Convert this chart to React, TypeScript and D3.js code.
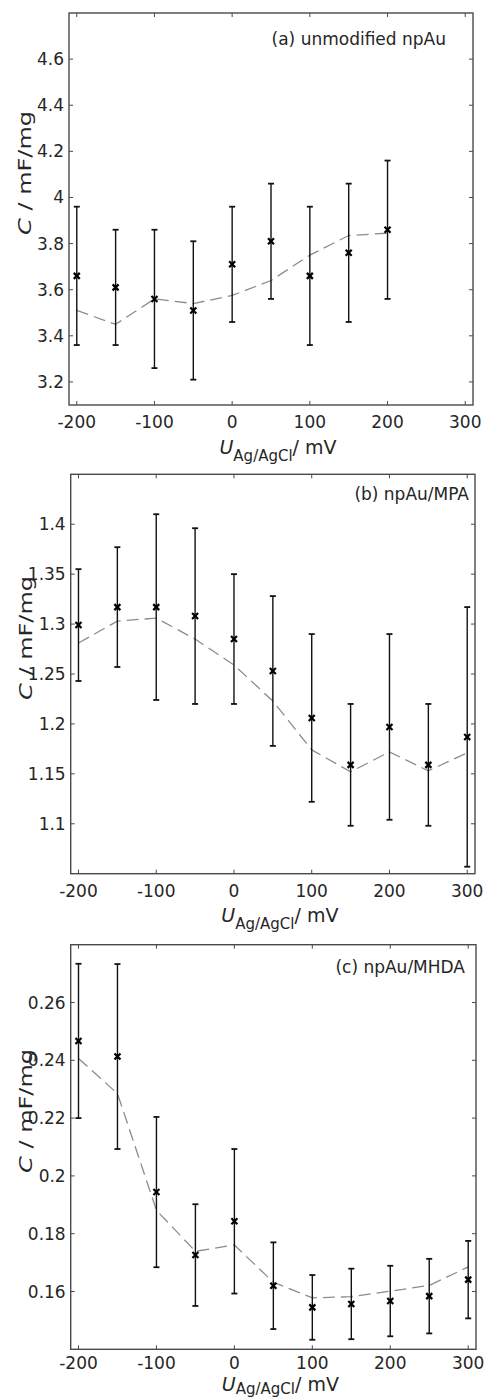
import React from "react";
import * as d3 from "d3";

// ---- data ----
const xTicks = [-200, -100, 0, 100, 200, 300];

const aX = [-200, -150, -100, -50, 0, 50, 100, 150, 200];
const aC = [3.66, 3.61, 3.56, 3.51, 3.71, 3.81, 3.66, 3.76, 3.86];
const aErr = [0.3, 0.25, 0.3, 0.3, 0.25, 0.25, 0.3, 0.3, 0.3];
const aFit = [3.51, 3.45, 3.56, 3.54, 3.575, 3.64, 3.75, 3.835, 3.845];
const aYTicks = [3.2, 3.4, 3.6, 3.8, 4, 4.2, 4.4, 4.6];

const bX = [-200, -150, -100, -50, 0, 50, 100, 150, 200, 250, 300];
const bC = [1.299, 1.317, 1.317, 1.308, 1.285, 1.253, 1.206, 1.159, 1.197, 1.159, 1.187];
const bErr = [0.056, 0.06, 0.093, 0.088, 0.065, 0.075, 0.084, 0.061, 0.093, 0.061, 0.13];
const bFit = [1.281, 1.303, 1.306, 1.285, 1.259, 1.223, 1.174, 1.152, 1.172, 1.153, 1.171];
const bYTicks = [1.1, 1.15, 1.2, 1.25, 1.3, 1.35, 1.4];

const cX = [-200, -150, -100, -50, 0, 50, 100, 150, 200, 250, 300];
const cC = [0.2467, 0.2413, 0.1944, 0.1726, 0.1843, 0.162, 0.1545, 0.1557, 0.1567, 0.1584, 0.1641];
const cErr = [0.0267, 0.032, 0.026, 0.0176, 0.025, 0.015, 0.0112, 0.0122, 0.0122, 0.0129, 0.0134];
const cFit = [0.2406, 0.2285, 0.1881, 0.1739, 0.1761, 0.1632, 0.1578, 0.1582, 0.1601, 0.1621, 0.1685];
const cYTicks = [0.16, 0.18, 0.2, 0.22, 0.24, 0.26];

const xDomain: [number, number] = [-210, 310];

interface PanelProps {
  left: number; top: number; right: number; bottom: number;
  yDomain: [number, number];
  yTicks: number[];
  xs: number[]; ys: number[]; errs: number[]; fit: number[];
  title: string; titleX: number; titleDy: number;
  xLabelDy: number; xTickDy: number; subDy: number;
  id: string;
}

const FONT = "'DejaVu Sans', Verdana, sans-serif";
const AXIS = "#4a4a4a";
const TXT = "#262626";

function Panel(p: PanelProps) {
  const x = d3.scaleLinear().domain(xDomain).range([p.left, p.right]);
  const y = d3.scaleLinear().domain(p.yDomain).range([p.bottom, p.top]);
  const line = d3.line<number>().x((_, i) => x(p.xs[i])).y((d) => y(d));
  const tl = 4;
  const cx = (p.left + p.right) / 2;
  const cy = (p.top + p.bottom) / 2;
  return (
    <g>
      <defs>
        <clipPath id={"clip" + p.id}>
          <rect x={p.left} y={p.top} width={p.right - p.left} height={p.bottom - p.top} />
        </clipPath>
      </defs>
      {/* fit line */}
      <path d={line(p.fit) || ""} fill="none" stroke="#8c8c8c" strokeWidth={1.3}
        strokeDasharray="12,6" clipPath={`url(#clip${p.id})`} />
      {/* error bars */}
      {p.xs.map((xv, i) => {
        const px = x(xv);
        const y1 = y(p.ys[i] + p.errs[i]);
        const y0 = y(p.ys[i] - p.errs[i]);
        return (
          <g key={"e" + i} stroke="#111" strokeWidth={1.4}>
            <line x1={px} x2={px} y1={y1} y2={y0} />
            <line x1={px - 3} x2={px + 3} y1={y1} y2={y1} strokeWidth={1.8} />
            <line x1={px - 3} x2={px + 3} y1={y0} y2={y0} strokeWidth={1.8} />
          </g>
        );
      })}
      {/* markers */}
      {p.xs.map((xv, i) => {
        const px = x(xv);
        const py = y(p.ys[i]);
        const s = 3;
        return (
          <g key={"m" + i} stroke="#000" strokeWidth={2.2}>
            <line x1={px - s} x2={px + s} y1={py - s} y2={py + s} />
            <line x1={px - s} x2={px + s} y1={py + s} y2={py - s} />
          </g>
        );
      })}
      {/* frame */}
      <rect x={p.left} y={p.top} width={p.right - p.left} height={p.bottom - p.top}
        fill="none" stroke={AXIS} strokeWidth={1.4} />
      {/* x ticks */}
      {xTicks.map((t) => (
        <g key={"xt" + t}>
          <line x1={x(t)} x2={x(t)} y1={p.bottom} y2={p.bottom - tl} stroke={AXIS} strokeWidth={1} />
          <line x1={x(t)} x2={x(t)} y1={p.top} y2={p.top + tl} stroke={AXIS} strokeWidth={1} />
          <text x={x(t)} y={p.bottom + p.xTickDy} textAnchor="middle" fontSize={17} fill={TXT} fontFamily={FONT}>
            {String(t)}
          </text>
        </g>
      ))}
      {/* y ticks */}
      {p.yTicks.map((t) => (
        <g key={"yt" + t}>
          <line x1={p.left} x2={p.left + tl} y1={y(t)} y2={y(t)} stroke={AXIS} strokeWidth={1} />
          <line x1={p.right} x2={p.right - tl} y1={y(t)} y2={y(t)} stroke={AXIS} strokeWidth={1} />
          <text x={p.left - 5} y={y(t) + 6} textAnchor="end" fontSize={17} fill={TXT} fontFamily={FONT}>
            {String(t)}
          </text>
        </g>
      ))}
      {/* title */}
      <text x={p.titleX} y={p.top + p.titleDy} textAnchor="end" fontSize={17} fill={TXT} fontFamily={FONT}>
        {p.title}
      </text>
      {/* x label */}
      <text x={cx + 7} y={p.bottom + p.xLabelDy} textAnchor="middle" fontSize={19} fill={TXT} fontFamily={FONT}>
        <tspan fontStyle="italic">U</tspan>
        <tspan fontSize={15} dy={p.subDy}>Ag/AgCl</tspan>
        <tspan dy={-p.subDy}>/ mV</tspan>
      </text>
      {/* y label */}
      <text transform={`translate(${p.left - 38.5},${cy - 36}) rotate(-90)`} textAnchor="middle"
        fontSize={18} fill={TXT} fontFamily={FONT} textLength={124} lengthAdjust="spacingAndGlyphs">
        <tspan fontStyle="italic">C</tspan>
        <tspan> / mF/mg</tspan>
      </text>
    </g>
  );
}

export default function App() {
  return (
    <svg width={486} height={1398} style={{ position: "absolute", left: 0, top: 0, background: "#fff" }}>
      <rect x={0} y={0} width={486} height={1398} fill="#fff" />
      <Panel id="a" left={69} top={13} right={473} bottom={405} yDomain={[3.1, 4.8]} yTicks={aYTicks}
        xs={aX} ys={aC} errs={aErr} fit={aFit} title="(a) unmodified npAu" titleX={446} titleDy={32}
        xLabelDy={49} xTickDy={23} subDy={7} />
      <Panel id="b" left={70.7} top={474.3} right={475} bottom={873.7} yDomain={[1.05, 1.45]} yTicks={bYTicks}
        xs={bX} ys={bC} errs={bErr} fit={bFit} title="(b) npAu/MPA" titleX={469} titleDy={26}
        xLabelDy={48} xTickDy={23} subDy={7} />
      <Panel id="c" left={70.7} top={944.7} right={476} bottom={1349.3} yDomain={[0.14, 0.28]} yTicks={cYTicks}
        xs={cX} ys={cC} errs={cErr} fit={cFit} title="(c) npAu/MHDA" titleX={465} titleDy={28}
        xLabelDy={41.5} xTickDy={20} subDy={3.5} />
    </svg>
  );
}
